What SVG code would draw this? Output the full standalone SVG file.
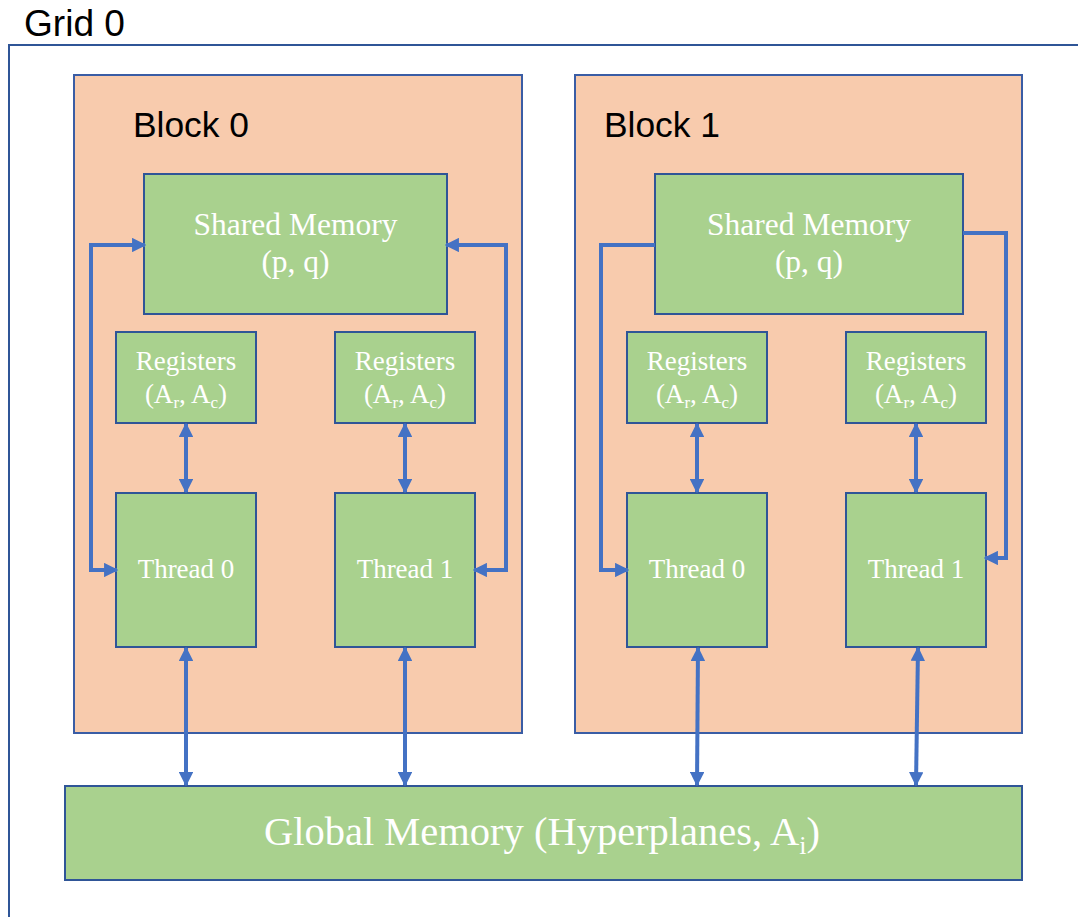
<svg xmlns="http://www.w3.org/2000/svg" width="1078" height="917" viewBox="0 0 1078 917">
<style>
.blk{fill:#F8CBAD;stroke:#3A5DA5;stroke-width:2}
.box{fill:#A9D18E;stroke:#2F5597;stroke-width:2}
.lbl{font-family:"Liberation Sans",Arial,sans-serif;fill:#000}
.w{font-family:"Liberation Serif","Times New Roman",serif;fill:#fff;text-anchor:middle}
.c{fill:none;stroke:#4472C4;stroke-width:4}
</style>
<defs>
<marker id="ah" viewBox="0 0 10 10" refX="9" refY="5" markerWidth="3.6" markerHeight="3.6" orient="auto-start-reverse" markerUnits="strokeWidth">
<path d="M0,0 L10,5 L0,10 Z" fill="#4472C4"/>
</marker>
</defs>
<rect width="1078" height="917" fill="#fff"/>
<g id="grid">
<path d="M9,917 V45 H1078" fill="none" stroke="#2F5597" stroke-width="2"/>
<text class="lbl" x="24" y="36" font-size="36" textLength="101" lengthAdjust="spacingAndGlyphs">Grid 0</text>
</g>
<g id="block0">
<rect class="blk" x="74" y="75" width="448" height="658"/>
<text class="lbl" x="133" y="137" font-size="35" textLength="116" lengthAdjust="spacingAndGlyphs">Block 0</text>
</g>
<g id="block1">
<rect class="blk" x="575" y="75" width="447" height="658"/>
<text class="lbl" x="604" y="137" font-size="35" textLength="116" lengthAdjust="spacingAndGlyphs">Block 1</text>
</g>
<g id="shared0">
<rect class="box" x="144" y="174" width="303" height="140"/>
<text class="w" x="295.5" y="235" font-size="31.5">Shared Memory</text>
<text class="w" x="295.5" y="272" font-size="31.5">(p, q)</text>
</g>
<g id="shared1">
<rect class="box" x="655" y="174" width="308" height="140"/>
<text class="w" x="809" y="235" font-size="31.5">Shared Memory</text>
<text class="w" x="809" y="272" font-size="31.5">(p, q)</text>
</g>
<g id="reg00">
<rect class="box" x="116" y="332" width="140" height="91"/>
<text class="w" x="186" y="370" font-size="27">Registers</text>
<text class="w" x="186" y="403" font-size="27">(A<tspan font-size="17" dy="5">r</tspan><tspan dy="-5">, A</tspan><tspan font-size="17" dy="5">c</tspan><tspan dy="-5">)</tspan></text>
</g>
<g id="reg01">
<rect class="box" x="335" y="332" width="140" height="91"/>
<text class="w" x="405" y="370" font-size="27">Registers</text>
<text class="w" x="405" y="403" font-size="27">(A<tspan font-size="17" dy="5">r</tspan><tspan dy="-5">, A</tspan><tspan font-size="17" dy="5">c</tspan><tspan dy="-5">)</tspan></text>
</g>
<g id="reg10">
<rect class="box" x="627" y="332" width="140" height="91"/>
<text class="w" x="697" y="370" font-size="27">Registers</text>
<text class="w" x="697" y="403" font-size="27">(A<tspan font-size="17" dy="5">r</tspan><tspan dy="-5">, A</tspan><tspan font-size="17" dy="5">c</tspan><tspan dy="-5">)</tspan></text>
</g>
<g id="reg11">
<rect class="box" x="846" y="332" width="140" height="91"/>
<text class="w" x="916" y="370" font-size="27">Registers</text>
<text class="w" x="916" y="403" font-size="27">(A<tspan font-size="17" dy="5">r</tspan><tspan dy="-5">, A</tspan><tspan font-size="17" dy="5">c</tspan><tspan dy="-5">)</tspan></text>
</g>
<g id="thread00">
<rect class="box" x="116" y="493" width="140" height="154"/>
<text class="w" x="186" y="578" font-size="27">Thread 0</text>
</g>
<g id="thread01">
<rect class="box" x="335" y="493" width="140" height="154"/>
<text class="w" x="405" y="578" font-size="27">Thread 1</text>
</g>
<g id="thread10">
<rect class="box" x="627" y="493" width="140" height="154"/>
<text class="w" x="697" y="578" font-size="27">Thread 0</text>
</g>
<g id="thread11">
<rect class="box" x="846" y="493" width="140" height="154"/>
<text class="w" x="916" y="578" font-size="27">Thread 1</text>
</g>
<g id="global">
<rect class="box" x="65" y="786" width="957" height="94"/>
<text class="w" x="542" y="845" font-size="40.5">Global Memory (Hyperplanes, A<tspan font-size="26" dy="9">i</tspan><tspan dy="-9">)</tspan></text>
</g>
<g id="connectors">
<path class="c" d="M117,570 H91 V245 H145" marker-start="url(#ah)" marker-end="url(#ah)"/>
<path class="c" d="M474,570 H506 V245 H446" marker-start="url(#ah)" marker-end="url(#ah)"/>
<path class="c" d="M655,245 H601 V570 H628" marker-end="url(#ah)"/>
<path class="c" d="M963,233 H1006 V558 H985" marker-end="url(#ah)"/>
<path class="c" d="M186,424 V492" marker-start="url(#ah)" marker-end="url(#ah)"/>
<path class="c" d="M405,424 V492" marker-start="url(#ah)" marker-end="url(#ah)"/>
<path class="c" d="M697,424 V492" marker-start="url(#ah)" marker-end="url(#ah)"/>
<path class="c" d="M916,424 V492" marker-start="url(#ah)" marker-end="url(#ah)"/>
<path class="c" d="M186,648 V785" marker-start="url(#ah)" marker-end="url(#ah)"/>
<path class="c" d="M405,648 V785" marker-start="url(#ah)" marker-end="url(#ah)"/>
<path class="c" d="M698,648 L697,785" marker-start="url(#ah)" marker-end="url(#ah)"/>
<path class="c" d="M918,648 L916,785" marker-start="url(#ah)" marker-end="url(#ah)"/>
</g>
</svg>
